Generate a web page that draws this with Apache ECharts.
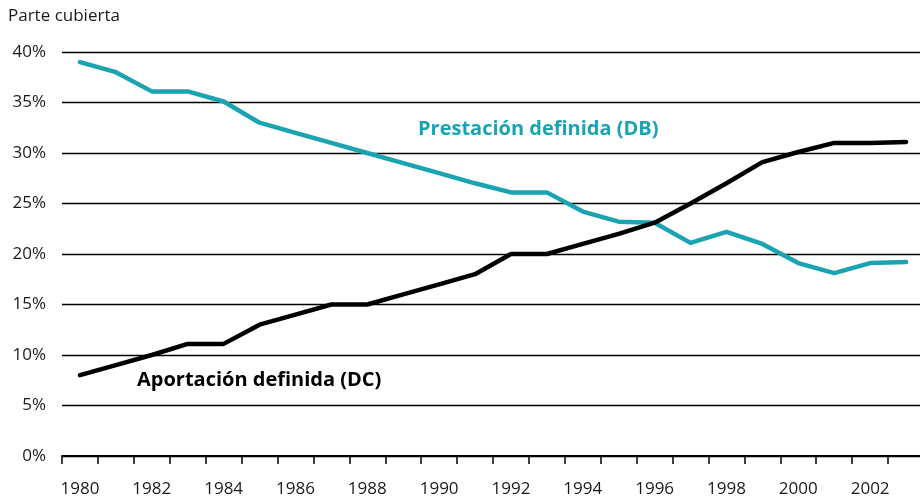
<!DOCTYPE html>
<html>
<head>
<meta charset="utf-8">
<script src="https://cdn.jsdelivr.net/npm/echarts@6/dist/echarts.min.js"></script>
<style>html,body{margin:0;padding:0;background:#fff}#c{width:920px;height:496px}</style>
</head>
<body>
<div id="c"></div>
<script>
var years = ['1980','1981','1982','1983','1984','1985','1986','1987','1988','1989','1990','1991','1992','1993','1994','1995','1996','1997','1998','1999','2000','2001','2002','2003'];
var dbValues = [39.0,38.0,36.1,36.1,35.1,33.0,32.0,31.0,30.0,29.0,28.0,27.0,26.1,26.1,24.2,23.2,23.1,21.1,22.2,21.0,19.1,18.1,19.1,19.2];
var dcValues = [8.0,9.0,10.0,11.1,11.1,13.0,14.0,15.0,15.0,16.0,17.0,18.0,20.0,20.0,21.0,22.0,23.1,25.0,27.0,29.1,30.1,31.0,31.0,31.1];
var yTicks = [0,5,10,15,20,25,30,35,40];

var FONT = '"Open Sans", "Noto Sans", sans-serif';
var TEAL = '#1aa3b1';
var chart = echarts.init(document.getElementById('c'), null, {renderer:'canvas'});
chart.setOption({
  animation:false,
  backgroundColor:'#fff',
  textStyle:{fontFamily:FONT},
  grid:{left:62, right:-4, top:52, bottom:40, containLabel:false, outerBoundsMode:'none'},
  xAxis:{
    type:'category',
    data:years,
    boundaryGap:true,
    axisLine:{show:true, lineStyle:{color:'#000', width:2}},
    axisTick:{show:true, interval:0, length:8, lineStyle:{color:'#000', width:1.5}},
    axisLabel:{interval:1, color:'#1a1a1a', fontSize:17, fontFamily:FONT, margin:25}
  },
  yAxis:{
    type:'value',
    min:yTicks[0], max:yTicks[yTicks.length-1], interval:5,
    axisLine:{show:false},
    axisTick:{show:false},
    axisLabel:{color:'#1a1a1a', fontSize:17, fontFamily:FONT, margin:16, formatter:function(v){return v+'%';}},
    splitLine:{show:true, lineStyle:{color:'#000', width:1.4}}
  },
  graphic:[
    {type:'text', left:8, top:8, style:{text:'Parte cubierta', fill:'#1a1a1a', font:'17px '+FONT}},
    {type:'text', left:418, top:119, style:{text:'Prestación definida (DB)', fill:TEAL, font:'bold 20px '+FONT}},
    {type:'text', left:137, top:370, style:{text:'Aportación definida (DC)', fill:'#000', font:'bold 20px '+FONT}}
  ],
  series:[
    {name:'DB', type:'line', data:dbValues, symbol:'none', lineStyle:{color:TEAL, width:4.5, cap:'round', join:'round'}},
    {name:'DC', type:'line', data:dcValues, symbol:'none', lineStyle:{color:'#000', width:4.5, cap:'round', join:'round'}}
  ]
});
</script>
</body>
</html>
